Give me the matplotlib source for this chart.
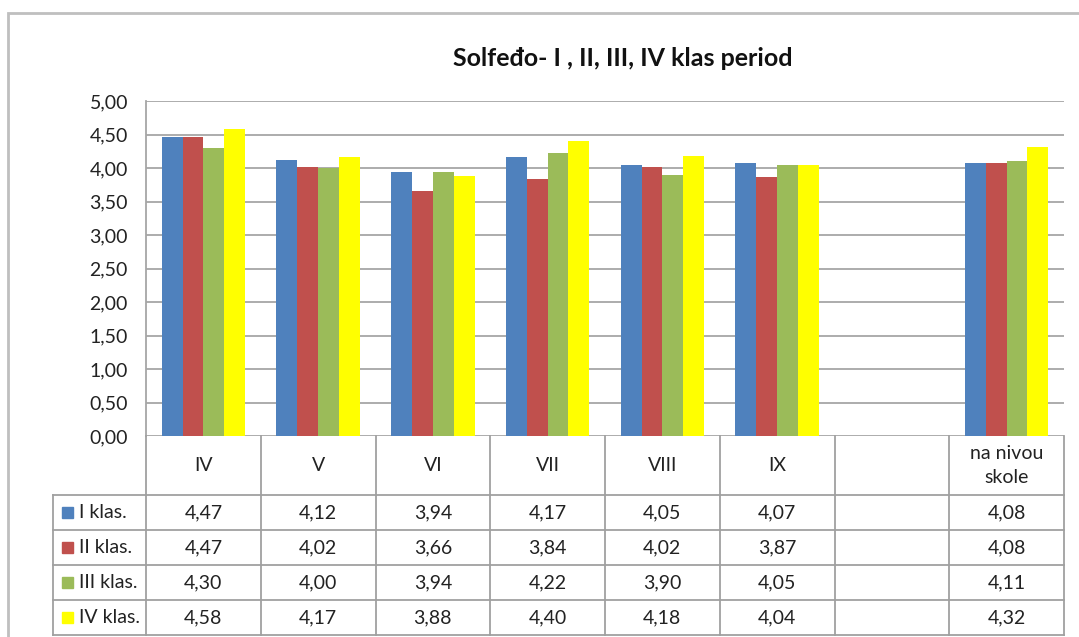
import numpy as np
import matplotlib
matplotlib.use('Agg')
import matplotlib.pyplot as plt
from matplotlib.patches import Rectangle
from matplotlib.lines import Line2D
from matplotlib.transforms import blended_transform_factory

plt.rcParams['font.family'] = ['Lato', 'DejaVu Sans']

# data
title = 'Solfeđo- I , II, III, IV klas period'
categories = ['IV', 'V', 'VI', 'VII', 'VIII', 'IX', '', 'na nivou\nskole']
series_names = ['I klas.', 'II klas.', 'III klas.', 'IV klas.']
klas_1 = [4.47, 4.12, 3.94, 4.17, 4.05, 4.07, np.nan, 4.08]
klas_2 = [4.47, 4.02, 3.66, 3.84, 4.02, 3.87, np.nan, 4.08]
klas_3 = [4.30, 4.00, 3.94, 4.22, 3.90, 4.05, np.nan, 4.11]
klas_4 = [4.58, 4.17, 3.88, 4.40, 4.18, 4.04, np.nan, 4.32]
yticks = [0, 0.5, 1.0, 1.5, 2.0, 2.5, 3.0, 3.5, 4.0, 4.5, 5.0]

series = [klas_1, klas_2, klas_3, klas_4]
colors = ['#4F81BD', '#C0504D', '#9BBB59', '#FFFF00']
txt_color = '#222222'
fs = 14

W, H = 1079, 637
fig = plt.figure(figsize=(W / 100, H / 100), dpi=100)

def fx(px):
    return px / W

def fy(py):
    return 1 - py / H

# outer chart border
fig.add_artist(Rectangle((fx(8), fy(700)), fx(1200), fy(13) - fy(700),
                         transform=fig.transFigure, fill=False,
                         edgecolor='#BFBFBF', linewidth=2))

left, right, top, bottom = 146, 1064, 101, 436
ax = fig.add_axes([fx(left), fy(bottom), fx(right) - fx(left), fy(top) - fy(bottom)])

n = len(categories)
x = np.arange(n)
w = 1 / 5.5
for j, vals in enumerate(series):
    ax.bar(x + (j - 1.5) * w, vals, width=w, color=colors[j], zorder=3,
           edgecolor='none')

ax.set_xlim(-0.5, n - 0.5)
ax.set_ylim(0, 5)
ax.set_yticks(yticks)
ax.set_yticklabels([('%.2f' % v).replace('.', ',') for v in yticks],
                   fontsize=fs, color=txt_color)
ax.set_xticks([])
ax.tick_params(axis='y', length=0, pad=13)
ax.grid(axis='y', color='#A6A6A6', linewidth=1.3, zorder=0)
for s in ['top', 'right', 'bottom']:
    ax.spines[s].set_visible(False)
ax.spines['left'].set_color('#A6A6A6')
ax.spines['left'].set_linewidth(1.3)

fig.text(fx(623), fy(59), title, ha='center', va='center',
         fontsize=18, fontweight='bold', color='#111111')

# data table under the plot, columns follow the axis scale
tr = blended_transform_factory(ax.transData, fig.transFigure)
line_kw = dict(color='#A0A0A0', linewidth=1.3)
header_bottom = 495
row_h = 35
rows_bottom = header_bottom + row_h * len(series)
legend_left = 53

# vertical lines
for i in range(n + 1):
    xb = i - 0.5
    fig.add_artist(Line2D([xb, xb], [fy(rows_bottom), fy(bottom)], transform=tr, **line_kw))
fig.add_artist(Line2D([fx(legend_left)] * 2, [fy(rows_bottom), fy(header_bottom)],
                      transform=fig.transFigure, **line_kw))
# horizontal lines
for k in range(len(series) + 1):
    yy = fy(header_bottom + k * row_h)
    fig.add_artist(Line2D([fx(legend_left), fx(right)], [yy, yy],
                          transform=fig.transFigure, **line_kw))

# header text
for i, c in enumerate(categories):
    fig.text(i, fy((bottom + header_bottom) / 2), c, transform=tr, ha='center',
             va='center', fontsize=fs, color=txt_color, linespacing=1.5)

# rows
for j, vals in enumerate(series):
    yc = fy(header_bottom + j * row_h + row_h / 2)
    fig.add_artist(Rectangle((fx(62), yc - 5.5 / H), 11 / W, 11 / H,
                             transform=fig.transFigure, color=colors[j]))
    fig.text(fx(79), yc, series_names[j], ha='left', va='center',
             fontsize=fs, color=txt_color)
    for i, v in enumerate(vals):
        if np.isnan(v):
            continue
        fig.text(i, yc, ('%.2f' % v).replace('.', ','), transform=tr,
                 ha='center', va='center', fontsize=fs, color=txt_color)

fig.savefig('out.png', dpi=100)
